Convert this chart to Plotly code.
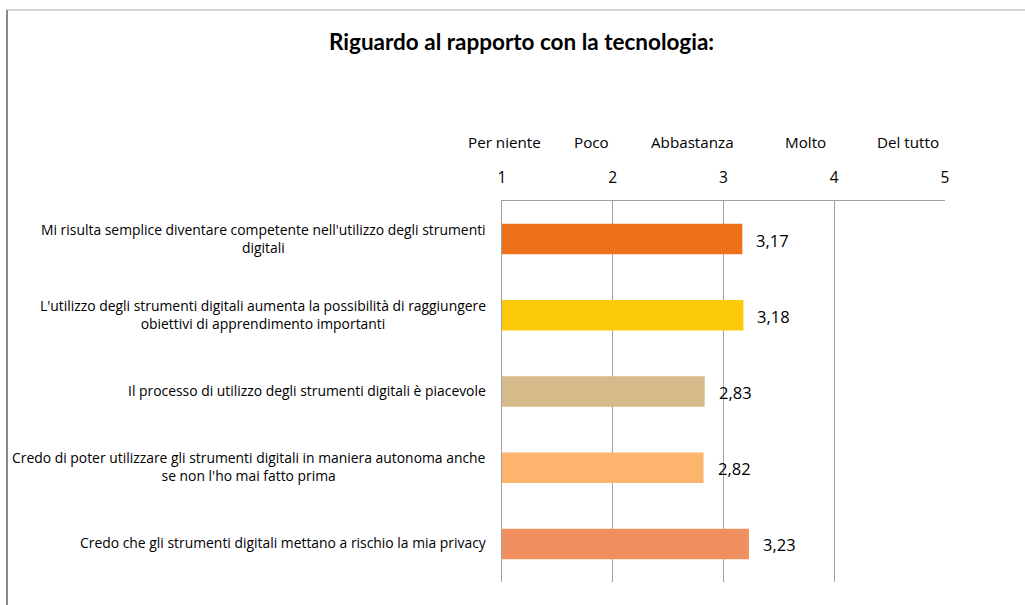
import plotly.graph_objects as go

# Survey items (top to bottom), mean scores and bar colours
items = [
    "Mi risulta semplice diventare competente nell'utilizzo degli strumenti\ndigitali",
    "L'utilizzo degli strumenti digitali aumenta la possibilità di raggiungere\nobiettivi di apprendimento importanti",
    "Il processo di utilizzo degli strumenti digitali è piacevole",
    "Credo di poter utilizzare gli strumenti digitali in maniera autonoma anche\nse non l'ho mai fatto prima",
    "Credo che gli strumenti digitali mettano a rischio la mia privacy",
]
scores = [3.17, 3.18, 2.83, 2.82, 3.23]
colors = ["#EC7118", "#FDC90B", "#D5BB8A", "#FDB46C", "#F09060"]

scale_ticks = [1, 2, 3, 4, 5]
scale_words = ["Per niente", "Poco", "Abbastanza", "Molto", "Del tutto"]
scale_word_pos = [1.02, 1.81, 2.72, 3.74, 4.67]

title = "Riguardo al rapporto con la tecnologia:"

W, H = 1025, 605
L, R, T, B = 502, 80, 201, 23
PW, PH = W - L - R, H - T - B


def px_x(p):
    return (p - L) / PW


def px_y(p):
    return (H - B - p) / PH


text_font = "Open Sans, sans-serif"
title_font = "Lato, sans-serif"
cats = [f"c{i}" for i in range(len(items))]

fig = go.Figure(
    go.Bar(
        x=scores,
        y=cats,
        orientation="h",
        marker=dict(color=colors, line=dict(width=0)),
        width=0.4,
        base=0,
        hoverinfo="skip",
    )
)

annotations = []
# item labels: centred text block, right edge next to the axis
for cat, label in zip(cats, items):
    annotations.append(dict(
        x=0, xref="paper", xanchor="right", xshift=-14,
        y=cat, yref="y", yanchor="middle", yshift=1,
        text=label.replace("\n", "<br>"), align="center", showarrow=False,
        font=dict(family=text_font, size=13.9, color="#000"),
    ))

# value labels
for cat, v in zip(cats, scores):
    annotations.append(dict(
        x=v, xref="x", xanchor="left", xshift=12,
        y=cat, yref="y", yanchor="middle", yshift=-1,
        text=f"{v:.2f}".replace(".", ","), showarrow=False,
        font=dict(family=text_font, size=16.5, color="#000"),
    ))

# verbal scale above the numeric ticks
for word, pos in zip(scale_words, scale_word_pos):
    annotations.append(dict(
        x=pos, xref="x", xanchor="center",
        y=px_y(142), yref="paper", yanchor="middle",
        text=word, showarrow=False,
        font=dict(family=text_font, size=15.2, color="#000"),
    ))

# title
annotations.append(dict(
    x=px_x(521), xref="paper", xanchor="center",
    y=px_y(41), yref="paper", yanchor="middle",
    text=f"<b>{title}</b>", showarrow=False,
    font=dict(family=title_font, size=22.5, color="#000"),
))

shapes = [
    # outer frame: top and left edges
    dict(type="line", xref="paper", yref="paper",
         x0=px_x(7), x1=px_x(W), y0=px_y(10), y1=px_y(10),
         line=dict(color="#AAAAAA", width=1)),
    dict(type="line", xref="paper", yref="paper",
         x0=px_x(7), x1=px_x(7), y0=px_y(10), y1=px_y(H),
         line=dict(color="#888888", width=2)),
]

fig.update_layout(
    width=W, height=H,
    margin=dict(l=L, r=R, t=T, b=B, pad=0),
    paper_bgcolor="white", plot_bgcolor="white",
    showlegend=False,
    annotations=annotations,
    shapes=shapes,
    bargap=0.6,
    xaxis=dict(
        range=[1, 5], side="top",
        tickvals=scale_ticks, ticktext=[str(t) for t in scale_ticks],
        tickfont=dict(family=text_font, size=15.5, color="#000"),
        ticks="", ticklabelstandoff=11,
        showgrid=True, gridcolor="#A0A0A0", gridwidth=1,
        showline=True, linecolor="#A0A0A0", linewidth=1,
        zeroline=False, fixedrange=True,
    ),
    yaxis=dict(
        categoryorder="array", categoryarray=cats,
        autorange="reversed",
        showticklabels=False, ticks="",
        showgrid=False, zeroline=False,
        showline=True, linecolor="#A0A0A0", linewidth=1,
        fixedrange=True,
    ),
)

fig.write_html("out.html", config={"displayModeBar": False})
